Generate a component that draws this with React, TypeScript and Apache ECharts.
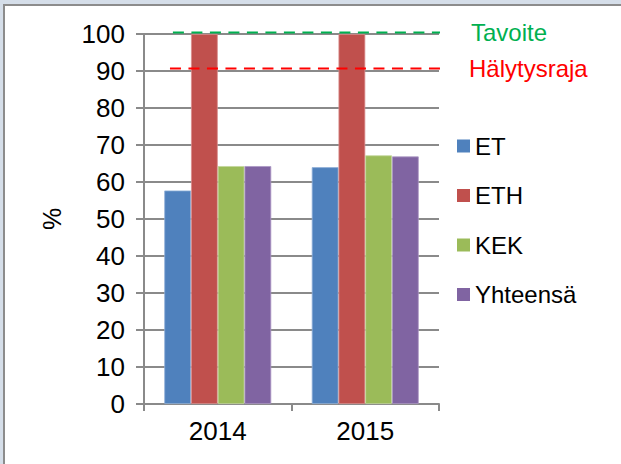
import React, { useEffect, useRef } from "react";
import * as echarts from "echarts";

const categories = ["2014", "2015"];
const etValues = [57.7, 64.0];
const ethValues = [100, 100];
const kekValues = [64.3, 67.2];
const totalValues = [64.3, 66.9];
const targetValue = 100.4;
const alarmValue = 90.7;
const yTicks = { min: 0, max: 100, interval: 10 };

const FONT = "'Liberation Sans', Arial, sans-serif";
const GRAY = "#8a8a8a";

export default function App() {
  const ref = useRef<HTMLDivElement>(null);
  useEffect(() => {
    document.body.style.margin = "0";
    const chart = echarts.init(ref.current!, null, { renderer: "svg" });
    const barSeries = (name: string, data: number[], color: string, border: string) => ({
      name,
      type: "bar",
      data,
      barGap: "0%",
      barCategoryGap: "27.5%",
      itemStyle: { color, borderColor: border, borderWidth: 0.8 },
    });
    const refLine = (name: string, value: number, x0: number, x1: number, color: string, dist: number) => ({
      name,
      type: "line",
      xAxisIndex: 1,
      yAxisIndex: 0,
      clip: false,
      symbol: "none",
      data: [
        [x0, value],
        [x1, value],
      ],
      lineStyle: { color, width: 2, type: [11, 7.5] },
      endLabel: {
        show: true,
        formatter: name,
        color,
        fontSize: 24,
        fontFamily: FONT,
        distance: dist,
      },
      z: 5,
    });
    chart.setOption({
      animation: false,
      backgroundColor: "#d5dee9",
      textStyle: { fontFamily: FONT },
      graphic: [
        {
          type: "rect",
          z: -10,
          silent: true,
          shape: { x: 4, y: 5, width: 700, height: 600 },
          style: { fill: "#ffffff", stroke: "#8c8c8c", lineWidth: 2 },
        },
      ],
      grid: { left: 144, right: 182, top: 34, bottom: 60 },
      legend: {
        data: ["ET", "ETH", "KEK", "Yhteensä"],
        orient: "vertical",
        left: 452,
        top: 129,
        itemWidth: 13,
        itemHeight: 13,
        itemGap: 25.5,
        icon: "rect",
        itemStyle: { borderWidth: 0 },
        textStyle: { fontSize: 24, color: "#000", fontFamily: FONT },
      },
      xAxis: [
        {
          type: "category",
          data: categories,
          axisLine: { lineStyle: { color: GRAY, width: 2 } },
          axisTick: { show: true, length: 7, lineStyle: { color: GRAY, width: 2 } },
          axisLabel: { fontSize: 26, color: "#000", margin: 14, fontFamily: FONT },
        },
        {
          type: "value",
          min: 0,
          max: 1,
          show: false,
        },
      ],
      yAxis: {
        type: "value",
        min: yTicks.min,
        max: yTicks.max,
        interval: yTicks.interval,
        name: "%",
        nameLocation: "middle",
        nameGap: 80,
        nameTextStyle: { fontSize: 25, color: "#000", fontFamily: FONT },
        axisLine: { show: true, lineStyle: { color: GRAY, width: 2 } },
        axisTick: { show: true, length: 8, lineStyle: { color: GRAY, width: 2 } },
        axisLabel: { fontSize: 26, color: "#000", margin: 19, fontFamily: FONT },
        splitLine: { lineStyle: { color: GRAY, width: 2 } },
      },
      series: [
        barSeries("ET", etValues, "#4f81bd", "#8fb0d8"),
        barSeries("ETH", ethValues, "#c0504d", "#d98c8a"),
        barSeries("KEK", kekValues, "#9bbb59", "#c3d79b"),
        barSeries("Yhteensä", totalValues, "#8064a2", "#ab97c4"),
        refLine("Tavoite", targetValue, 0.098, 1.024, "#00b050", 31),
        refLine("Hälytysraja", alarmValue, 0.088, 1.014, "#ff0000", 29),
      ],
    });
    return () => chart.dispose();
  }, []);
  return <div ref={ref} style={{ width: 621, height: 464 }} />;
}
